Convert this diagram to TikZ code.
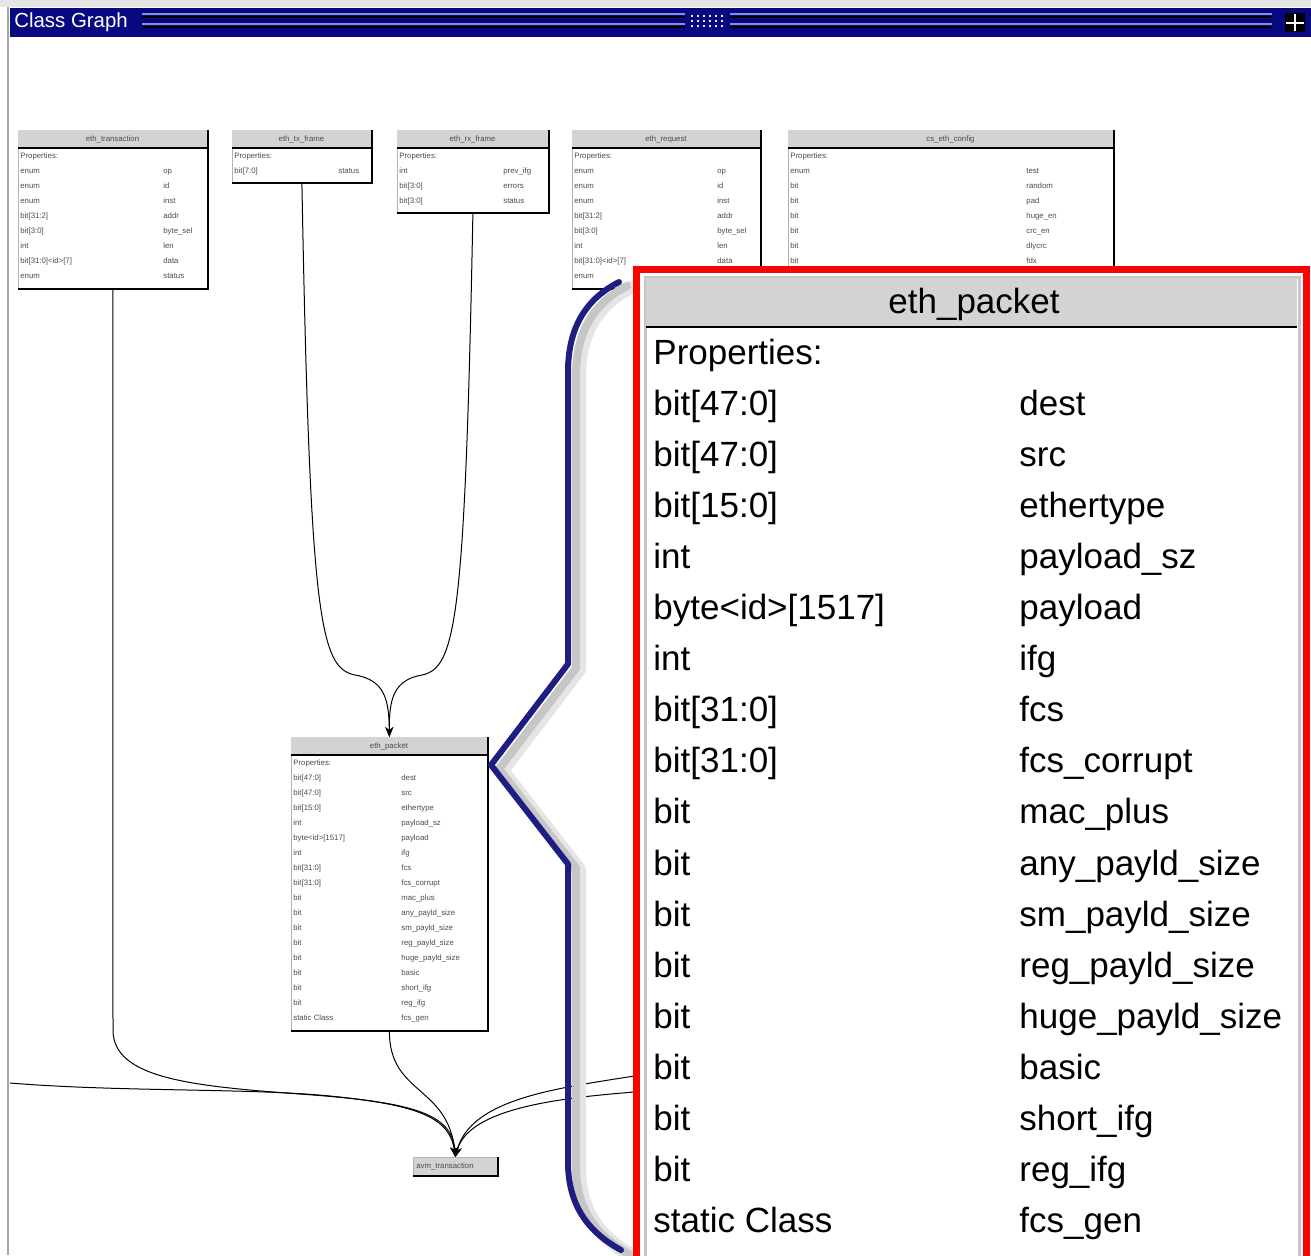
\documentclass[tikz,border=0pt]{standalone}
\usepackage{fontspec}
\newfontfamily\uifont{Liberation Sans}
\usetikzlibrary{arrows.meta}
\definecolor{titleblue}{RGB}{8,8,128}
\definecolor{braceblue}{RGB}{30,30,130}
\definecolor{headgray}{RGB}{211,211,211}
\definecolor{griplight}{RGB}{140,140,210}
\tikzset{
  smallbox/.style={draw=gray!60, line width=0.4pt, fill=white, anchor=north west, inner sep=0pt},
  tinytext/.style={font=\uifont\fontsize{3.9}{4.5}\selectfont, text=black!70, inner sep=0pt},
  bigtext/.style={font=\uifont\fontsize{17.5}{20}\selectfont, inner sep=0pt},
  boxshadow/.style={black, line width=1.2pt},
  link/.style={black, line width=0.5pt},
}
\newcommand\smallclass[8]{% name, x, y, width, height, column 2, title, rows
  \node[smallbox, minimum width={#4*0.5pt}, minimum height={#5*0.5pt}] (#1) at (#2,#3) {};
  \fill[headgray] (#2,#3) rectangle ++(#4,18);
  \node[tinytext, anchor=base] at (#2+#4/2,#3+11) {#7};
  \draw[black, line width=0.8pt] (#2,#3+18) -- ++(#4,0);
  \node[tinytext, anchor=base west] at (#2+2,#3+28) {Properties:};
  \foreach \lft/\rgt [count=\i] in #8 {
    \node[tinytext, anchor=base west] at (#2+2,#3+28+15*\i) {\lft};
    \node[tinytext, anchor=base west] at (#2+#6,#3+28+15*\i) {\rgt};
  }
  \draw[boxshadow] (#1.north east) -- (#1.south east) -- (#1.south west);
}
\def\transrows{enum/op, enum/id, enum/inst, bit[31:2]/addr, bit[3:0]/byte\_sel, int/len, bit[31:0]<id>[7]/data, enum/status}
\def\txrows{bit[7:0]/status}
\def\rxrows{int/prev\_ifg, bit[3:0]/errors, bit[3:0]/status}
\def\cfgrows{enum/test, bit/random, bit/pad, bit/huge\_en, bit/crc\_en, bit/dlycrc, bit/fdx, bit/basic}
\def\pktrows{bit[47:0]/dest, bit[47:0]/src, bit[15:0]/ethertype, int/payload\_sz, byte<id>[1517]/payload, int/ifg, bit[31:0]/fcs, bit[31:0]/fcs\_corrupt, bit/mac\_plus, bit/any\_payld\_size, bit/sm\_payld\_size, bit/reg\_payld\_size, bit/huge\_payld\_size, bit/basic, bit/short\_ifg, bit/reg\_ifg, static Class/fcs\_gen}
\begin{document}
\begin{tikzpicture}[x=0.5pt,y=-0.5pt,>={Stealth[length=5pt,width=4pt]}]
\useasboundingbox (0,0) rectangle (1311,1255);
\fill[white] (0,0) rectangle (1311,1255);
\fill[gray!20] (0,0) rectangle (1311,7);
\draw[gray!70, line width=1pt] (8,7) -- (8,1255);
% title bar
\fill[titleblue] (10,8) rectangle (1311,37);
\node[anchor=west, text=white, font=\uifont\fontsize{10.2}{12}\selectfont, inner sep=0pt] (title) at (14,22) {Class Graph};
\foreach \y in {14,24} {
  \draw[griplight, line width=1pt] (142,\y) -- (685,\y) (730,\y) -- (1272,\y);
  \draw[black, line width=1pt] (142,\y+3) -- (685,\y+3) (730,\y+3) -- (1272,\y+3);
}
\foreach \x in {691,697,...,721} \foreach \y in {15,20,25} \fill[white!80!griplight] (\x,\y) rectangle ++(2,2);
\fill[black] (1285,13) rectangle (1305,32);
\draw[white, line width=1pt] (1295,14) -- (1295,31) (1286,22.5) -- (1304,22.5);

\smallclass{trans}{18}{130}{189}{158}{145}{eth\_transaction}{\transrows}
\smallclass{txf}{232}{130}{139}{52}{106}{eth\_tx\_frame}{\txrows}
\smallclass{rxf}{397}{130}{151}{82}{106}{eth\_rx\_frame}{\rxrows}
\smallclass{req}{572}{130}{188}{158}{145}{eth\_request}{\transrows}
\smallclass{cfg}{788}{130}{325}{158}{238}{cs\_eth\_config}{\cfgrows}
\smallclass{pkt}{291}{737}{196}{293}{110}{eth\_packet}{\pktrows}

\node[smallbox, fill=headgray, minimum width=42pt, minimum height=9pt] (avm) at (413,1157) {};
\node[tinytext, anchor=base west] at (416,1168) {avm\_transaction};
\draw[boxshadow] (avm.north east) -- (avm.south east) -- (avm.south west);

\draw[link,->] (txf.south) .. controls (310,620) and (320,668) .. (355,675) .. controls (385,680) and (389,700) .. (pkt.north);
\draw[link,->] (rxf.south) .. controls (465,620) and (456,668) .. (422,675) .. controls (393,680) and (389,700) .. (pkt.north);

\coordinate (leftin) at (10,1083);
\coordinate (rightin1) at (634,1076);
\coordinate (rightin2) at (634,1092);
\draw[link,->] (trans.south) -- (113,1030) .. controls (113,1078) and (190,1086) .. (300,1094) .. controls (410,1102) and (452,1112) .. (avm.north);
\draw[link,->] (leftin) .. controls (120,1092) and (250,1088) .. (330,1096) .. controls (420,1105) and (450,1118) .. (avm.north);
\draw[link,->] (pkt.south) .. controls (389,1095) and (448,1085) .. (avm.north);
\draw[link,->] (rightin1) .. controls (560,1088) and (470,1098) .. (avm.north);
\draw[link,->] (rightin2) .. controls (560,1098) and (468,1108) .. (avm.north);

% brace with its shadow
\foreach \s/\shc/\w in {11/gray!20/7pt, 8/gray!45/4pt, 0/braceblue/3pt}
  \draw[color=\shc, line width=\w, line cap=round, line join=round, shift={(\s,\s/2)}]
    (619,282) .. controls (588,298) and (568,325) .. (568,372) -- (568,664) -- (491,765)
    -- (568,864) -- (568,1162) .. controls (568,1205) and (588,1232) .. (621,1250);

% magnified class
\draw[red, line width=3.5pt, fill=white] (636,269) rectangle (1306,1275);
\node[draw=gray!45, line width=1.5pt, fill=white, anchor=north west, inner sep=0pt, minimum width=327pt, minimum height=500pt] (big) at (644,276) {};
\fill[headgray] (646,278) rectangle (1297,326);
\draw[black, line width=1pt] (646,327) -- (1297,327);
\node[bigtext, anchor=base] (bigtitle) at (974,313) {eth\_packet};
\node[bigtext, anchor=base west] at (653,364) {Properties:};
\foreach \lft/\rgt [count=\i] in \pktrows {
  \node[bigtext, anchor=base west] at (653,364+51.1*\i) {\lft};
  \node[bigtext, anchor=base west] at (1019,364+51.1*\i) {\rgt};
}
\end{tikzpicture}
\end{document}
